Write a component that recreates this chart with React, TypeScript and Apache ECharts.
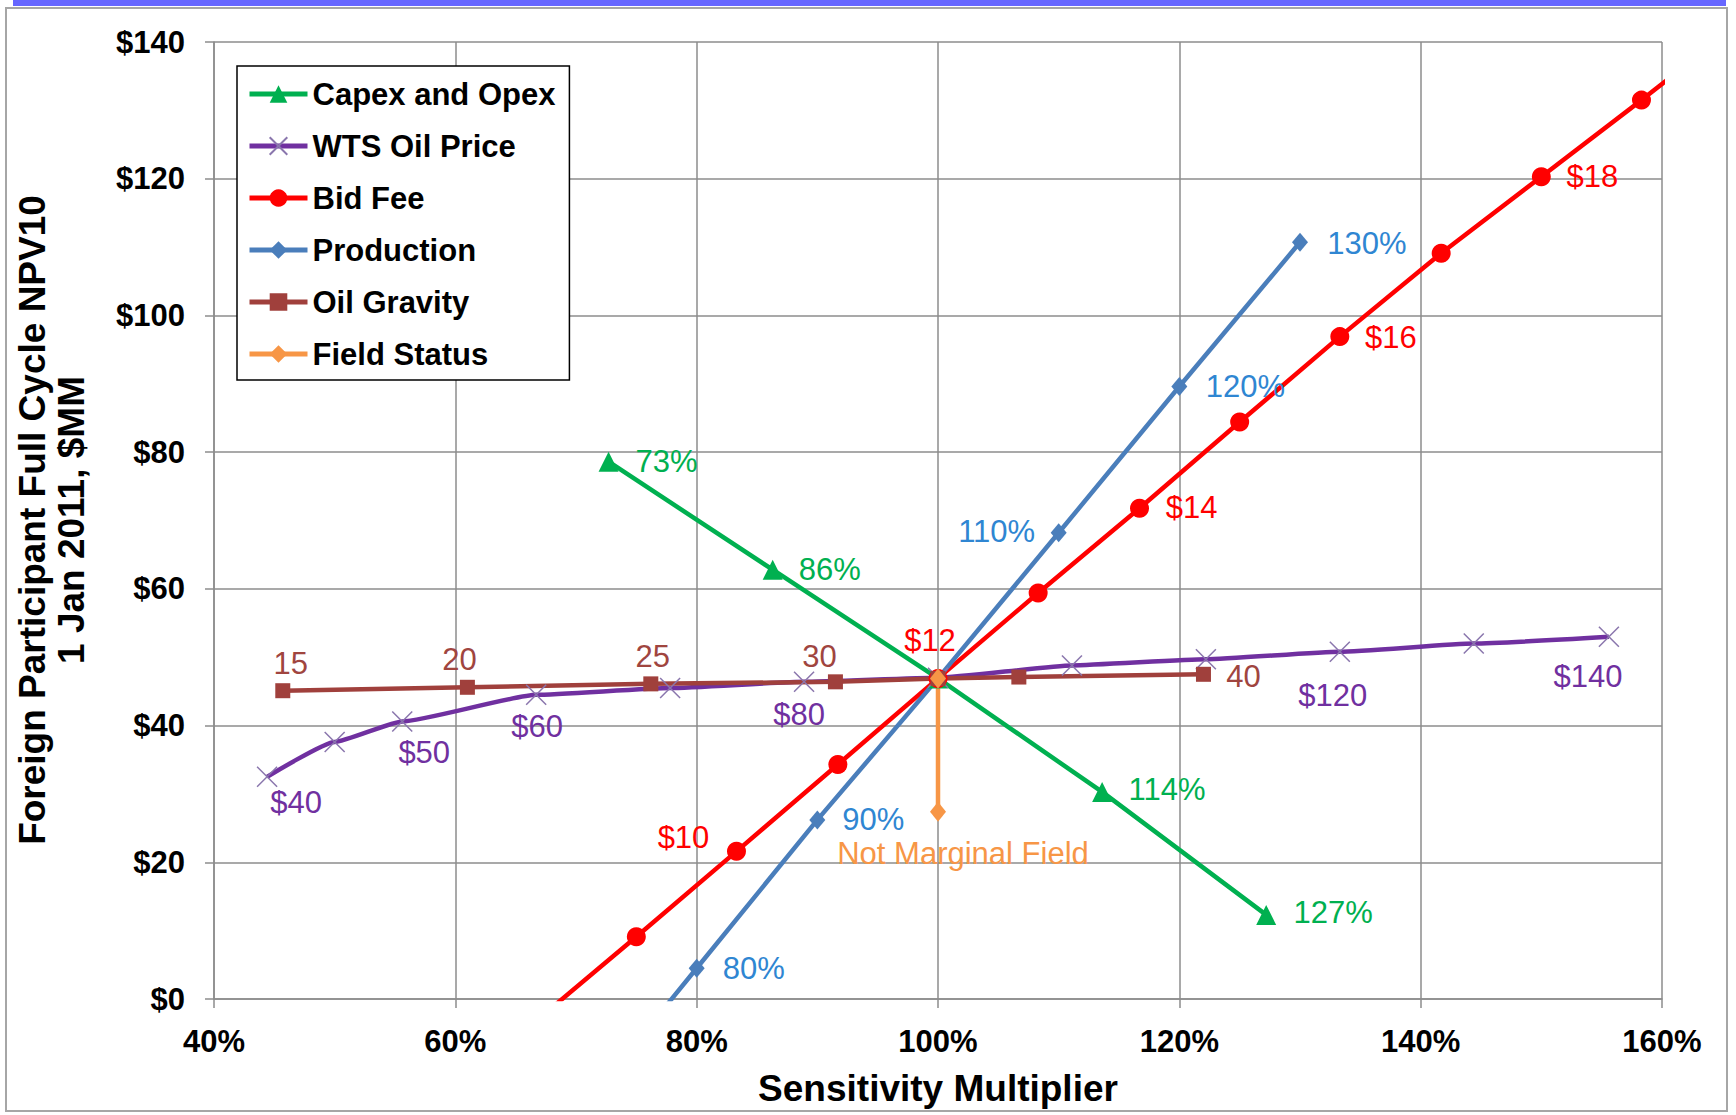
import React, { useEffect, useRef } from 'react';
import * as echarts from 'echarts';

// ---------- DATA ----------
const seriesNames = ['Capex and Opex', 'WTS Oil Price', 'Bid Fee', 'Production', 'Oil Gravity', 'Field Status'];

const capexX = [72.7, 86.3, 100, 113.6, 127.2];
const capexY = [78.6, 62.8, 46.9, 30.3, 12.3];
const capexLabels = ['73%', '86%', '', '114%', '127%'];

const wtsX = [44.4, 50.0, 55.6, 66.7, 77.8, 88.9, 100, 111.1, 122.2, 133.3, 144.4, 155.6];
const wtsY = [32.5, 37.6, 40.6, 44.5, 45.5, 46.4, 47.0, 48.8, 49.7, 50.8, 52.0, 53.0];
const wtsLabels = ['$40', '', '$50', '$60', '', '$80', '', '', '', '$120', '', '$140'];

const bidX = [66.7, 75, 83.3, 91.7, 100, 108.3, 116.7, 125, 133.3, 141.7, 150, 158.3, 166.7];
const bidY = [-3.2, 9.1, 21.6, 34.3, 46.9, 59.4, 71.8, 84.4, 96.9, 109.1, 120.3, 131.5, 143.2];
const bidLabels = ['', '', '$10', '', '$12', '', '$14', '', '$16', '', '$18', '', ''];

const prodX = [70, 80, 90, 100, 110, 120, 130];
const prodY = [-17.2, 4.5, 26.2, 46.9, 68.2, 89.6, 110.7];
const prodLabels = ['', '80%', '90%', '', '110%', '120%', '130%'];

const gravX = [45.7, 61.0, 76.2, 91.5, 100, 106.7, 122.0];
const gravY = [45.1, 45.6, 46.1, 46.4, 46.9, 47.1, 47.5];
const gravLabels = ['15', '20', '25', '30', '', '', '40'];

const fieldX = [100, 100];
const fieldY = [46.9, 27.4];
const fieldLabels = ['', 'Not Marginal Field'];

const xMin = 40, xMax = 160, xStep = 20;
const yMin = 0, yMax = 140, yStep = 20;

// ---------- STYLE ----------
const FONT = "'Liberation Sans', Arial, sans-serif";
const GRID = '#8c8c8c';
const LW = 4.5;

const capexOff = [[58, 0], [57, 0], null, [65, -2], [67, -2]];
const wtsOff = [[29, 26], null, [22, 31], [1, 32], null, [-5, 33], null, null, null, [-7, 44], null, [-21, 40]];
const bidOff = [null, null, [-53, -14], null, [-8, -38], null, [52, -1], null, [51, 1], null, [51, 0], null, null];
const prodOff = [null, [57, 0], [56, 0], null, [-62, -1], [66, 0], [67, 1]];
const gravOff = [[8, -27], [-8, -28], [2, -27], [-16, -25], null, null, [40, 2]];
const fieldOff = [null, [25, 42]];

function pts(xs: number[], ys: number[], labels: string[], offs: any[], color: string) {
  return xs.map((x, i) => {
    const item: any = { value: [x, ys[i]] };
    if (labels[i]) {
      item.label = {
        show: true,
        formatter: labels[i],
        position: 'inside',
        offset: offs[i] || [0, 0],
        color,
        fontSize: 31,
        fontFamily: FONT,
        align: 'center',
        verticalAlign: 'middle',
      };
    }
    return item;
  });
}

function mkSeries(name: string, data: any[], lineColor: string, symbol: string, size: any, itemStyle: any, extra: any = {}) {
  return {
    name,
    type: 'line',
    data,
    symbol,
    symbolSize: size,
    showAllSymbol: true,
    lineStyle: { color: lineColor, width: LW },
    itemStyle,
    label: { show: false },
    emphasis: { disabled: true },
    clip: true,
    ...extra,
  };
}

export default function App() {
  const ref = useRef<HTMLDivElement>(null);
  useEffect(() => {
    if (!ref.current) return;
    const chart = echarts.init(ref.current, undefined, { renderer: 'svg' });
    const option: any = {
      animation: false,
      backgroundColor: '#fff',
      textStyle: { fontFamily: FONT },
      grid: { left: 214, right: 74, top: 42, bottom: 116 },
      xAxis: {
        type: 'value',
        min: xMin,
        max: xMax,
        interval: xStep,
        axisLine: { lineStyle: { color: GRID, width: 1.5 } },
        axisTick: { show: true, length: 9, lineStyle: { color: GRID, width: 1.5 } },
        axisLabel: { formatter: (v: number) => v + '%', fontSize: 31, fontWeight: 'bold', color: '#000', margin: 27, fontFamily: FONT },
        splitLine: { show: true, lineStyle: { color: GRID, width: 1.5 } },
      },
      yAxis: {
        type: 'value',
        min: yMin,
        max: yMax,
        interval: yStep,
        axisLine: { show: true, lineStyle: { color: GRID, width: 1.5 } },
        axisTick: { show: true, length: 9, lineStyle: { color: GRID, width: 1.5 } },
        axisLabel: { formatter: (v: number) => '$' + v, fontSize: 31, fontWeight: 'bold', color: '#000', margin: 29, fontFamily: FONT },
        splitLine: { show: true, lineStyle: { color: GRID, width: 1.5 } },
      },
      legend: {
        orient: 'vertical',
        left: 237,
        top: 66,
        padding: [10, 14, 8, 10],
        itemWidth: 58,
        itemHeight: 22,
        itemGap: 16,
        backgroundColor: '#fff',
        borderColor: '#000',
        borderWidth: 1.5,
        lineStyle: { width: 5 },
        textStyle: { fontSize: 31, fontWeight: 'bold', color: '#000', lineHeight: 36, fontFamily: FONT },
        data: seriesNames,
        selectedMode: false,
      },
      series: [
        mkSeries(seriesNames[0], pts(capexX, capexY, capexLabels, capexOff, '#00b050'), '#00b050', 'triangle', 20, { color: '#00b050' }),
        mkSeries(seriesNames[1], pts(wtsX, wtsY, wtsLabels, wtsOff, '#7030a0'), '#7030a0', 'path://M0 0L10 10M10 0L0 10', 20,
          { color: '#8a76ad', borderColor: '#8a76ad', borderWidth: 1.5 }, { smooth: 0.15, smoothMonotone: 'x' }),
        mkSeries(seriesNames[2], pts(bidX, bidY, bidLabels, bidOff, '#ff0000'), '#ff0000', 'circle', 19, { color: '#ff0000' }),
        mkSeries(seriesNames[3], pts(prodX, prodY, prodLabels, prodOff, '#2f86d2'), '#4a7ebb', 'diamond', [16, 19], { color: '#4a7ebb' }),
        mkSeries(seriesNames[4], pts(gravX, gravY, gravLabels, gravOff, '#a0453f'), '#a0403c', 'rect', 15, { color: '#a0403c' }),
        mkSeries(seriesNames[5], pts(fieldX, fieldY, fieldLabels, fieldOff, '#f79646'), '#f79646', 'diamond', [16, 20], { color: '#f79646' }),
      ],
      graphic: [
        { type: 'rect', shape: { x: 13, y: 0, width: 1713, height: 6 }, style: { fill: '#6666ff' }, silent: true },
        { type: 'rect', shape: { x: 6, y: 8, width: 1721, height: 1103 }, style: { fill: 'none', stroke: '#a6a6a6', lineWidth: 2 }, silent: true },
        {
          type: 'text', x: 52, y: 520, rotation: Math.PI / 2, silent: true,
          style: { text: 'Foreign Participant Full Cycle NPV10\n1 Jan 2011, $MM', fontSize: 37, fontWeight: 'bold', fontFamily: FONT, fill: '#000', align: 'center', verticalAlign: 'middle', lineHeight: 39 },
        },
        {
          type: 'text', x: 938, y: 1088, silent: true,
          style: { text: 'Sensitivity Multiplier', fontSize: 37, fontWeight: 'bold', fontFamily: FONT, fill: '#000', align: 'center', verticalAlign: 'middle' },
        },
      ],
    };
    chart.setOption(option);
    return () => chart.dispose();
  }, []);
  return <div ref={ref} style={{ position: 'fixed', left: 0, top: 0, width: 1736, height: 1115 }} />;
}
